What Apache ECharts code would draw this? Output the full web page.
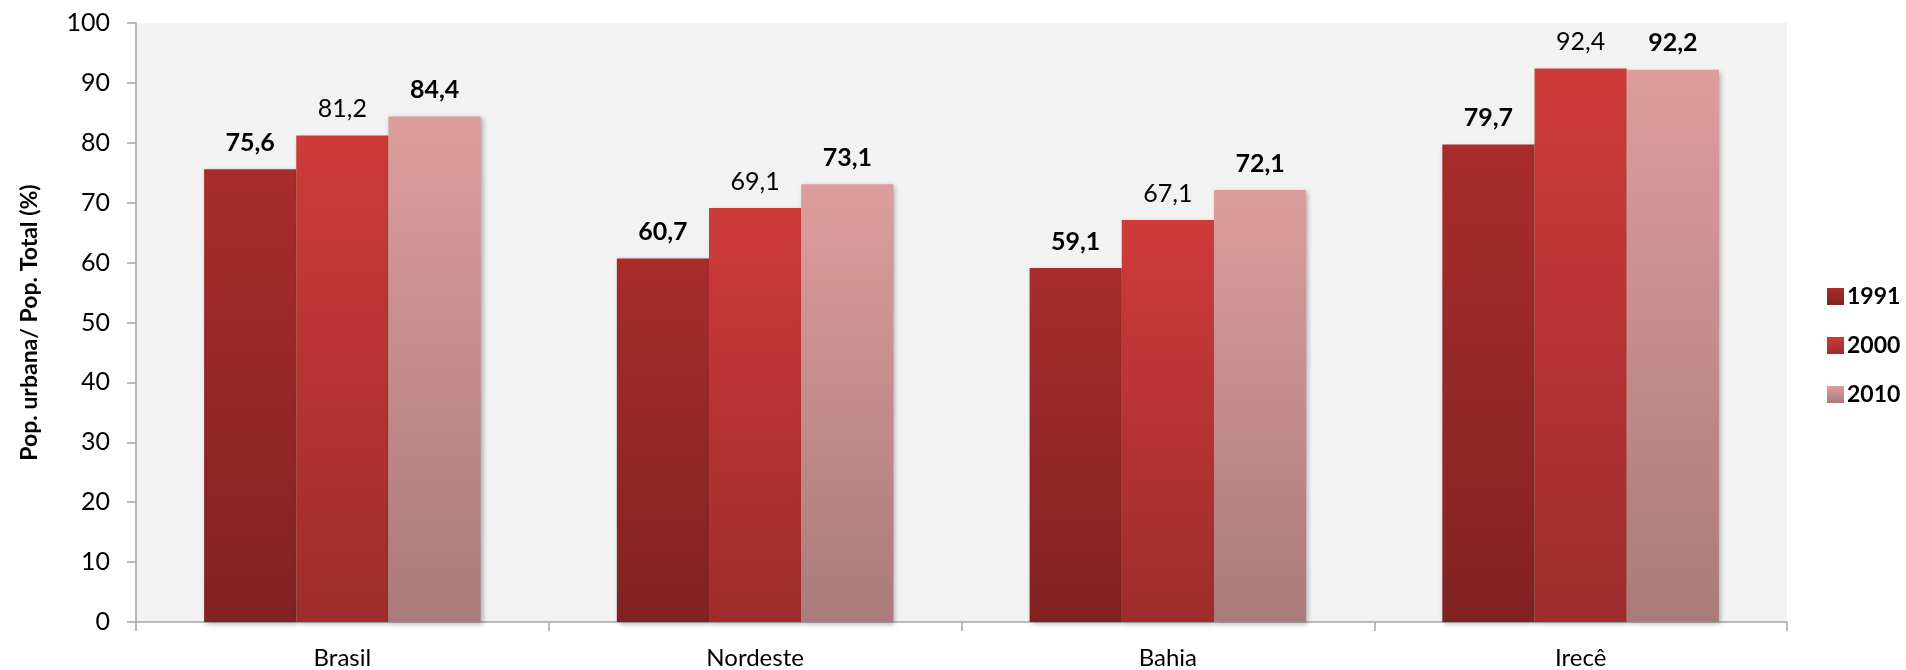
<!DOCTYPE html>
<html><head><meta charset="utf-8">
<script src="https://cdn.jsdelivr.net/npm/echarts@6/dist/echarts.min.js"></script>
<style>html,body{margin:0;padding:0;background:#fff}#c{width:1906px;height:670px}</style>
</head><body><div id="c"></div>
<script>
const categories = ['Brasil', 'Nordeste', 'Bahia', 'Irecê'];
const years = ['1991', '2000', '2010'];
const v1991 = [75.6, 60.7, 59.1, 79.7];
const v2000 = [81.2, 69.1, 67.1, 92.4];
const v2010 = [84.4, 73.1, 72.1, 92.2];
const yTicks = {min: 0, max: 100, interval: 10};

const FONT = 'Lato, "Open Sans", sans-serif';
function grad(top, bottom) {
  return new echarts.graphic.LinearGradient(0, 0, 0, 1, [{offset: 0, color: top}, {offset: 1, color: bottom}]);
}
const colors = [grad('#A82C2C', '#812222'), grad('#CE3B39', '#9E2C2C'), grad('#DD9D9D', '#AA7B7A')];
const bold = [true, false, true];
const seriesData = [v1991, v2000, v2010];

const chart = echarts.init(document.getElementById('c'));
chart.setOption({
  animation: false,
  textStyle: {fontFamily: FONT},
  grid: {left: 136, right: 119, top: 23, bottom: 48, show: true, backgroundColor: '#F2F2F2', borderWidth: 0},
  legend: {
    orient: 'vertical', left: 1822, top: 280, itemWidth: 17, itemHeight: 17, itemGap: 26,
    icon: 'rect',
    textStyle: {fontFamily: FONT, fontSize: 23, fontWeight: 'bold', color: '#000', padding: [0, 0, 0, -2]},
    data: years
  },
  xAxis: {
    type: 'category', data: categories,
    axisLine: {lineStyle: {color: '#A6A6A6', width: 1.5}},
    axisTick: {show: true, length: 9, alignWithLabel: false, lineStyle: {color: '#A6A6A6', width: 1.5}},
    axisLabel: {fontFamily: FONT, fontSize: 24, color: '#000', margin: 24}
  },
  yAxis: {
    type: 'value', min: yTicks.min, max: yTicks.max, interval: yTicks.interval,
    name: 'Pop. urbana/ Pop. Total (%)', nameLocation: 'middle', nameGap: 95, nameRotate: 90,
    nameTextStyle: {fontFamily: FONT, fontSize: 23, fontWeight: 'bold', color: '#000'},
    axisLine: {show: true, lineStyle: {color: '#A6A6A6', width: 1.5}},
    axisTick: {show: true, length: 9, lineStyle: {color: '#A6A6A6', width: 1.5}},
    splitLine: {show: false},
    axisLabel: {fontFamily: FONT, fontSize: 25, color: '#000', margin: 26}
  },
  series: years.map((y, i) => ({
    name: y, type: 'bar', data: seriesData[i],
    barGap: '0%', barCategoryGap: '33%',
    itemStyle: {color: colors[i], shadowBlur: 5, shadowColor: 'rgba(0,0,0,0.3)', shadowOffsetX: 2, shadowOffsetY: 2},
    label: {
      show: true, position: 'top', distance: 14,
      fontFamily: FONT, fontSize: 25, color: '#000', fontWeight: bold[i] ? 'bold' : 'normal',
      formatter: p => String(p.value.toFixed(1)).replace('.', ',')
    }
  }))
});
</script></body></html>
